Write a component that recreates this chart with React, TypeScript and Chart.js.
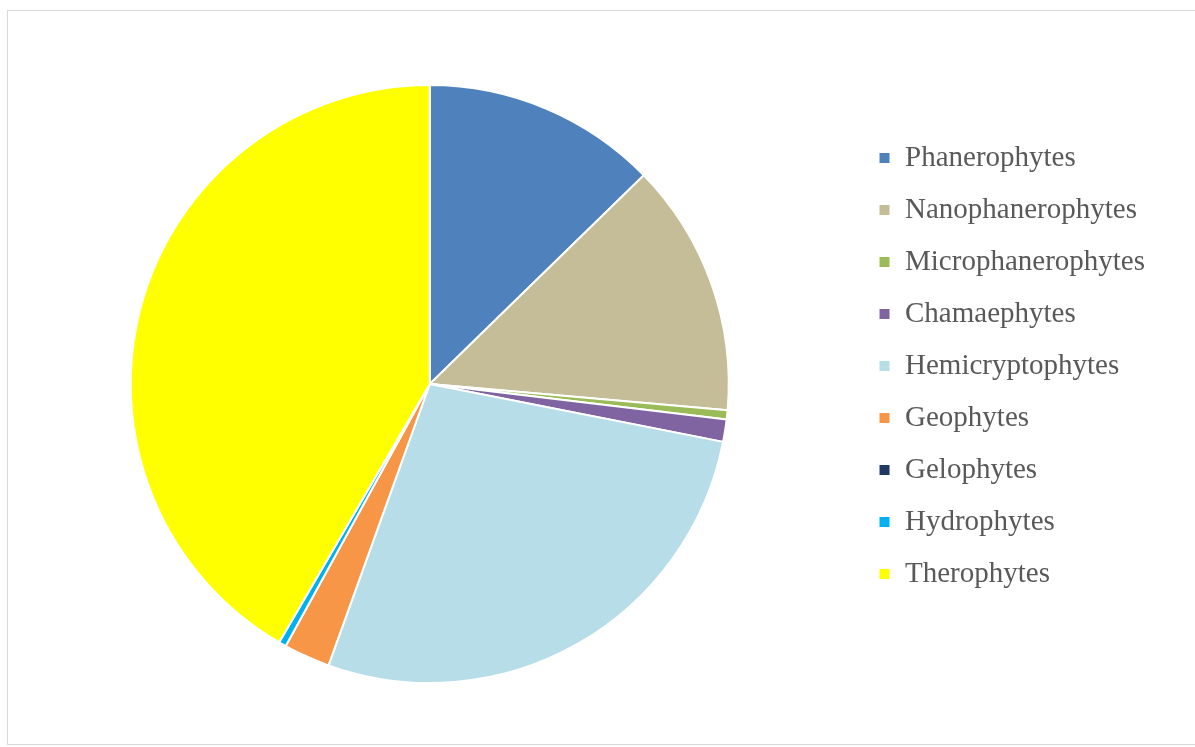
import React, { useEffect, useRef } from "react";
import { Chart, registerables } from "chart.js";

Chart.register(...registerables);

const categories = [
  "Phanerophytes",
  "Nanophanerophytes",
  "Microphanerophytes",
  "Chamaephytes",
  "Hemicryptophytes",
  "Geophytes",
  "Gelophytes",
  "Hydrophytes",
  "Therophytes",
];

const shares = [12.7, 13.7, 0.5, 1.2, 27.4, 2.5, 0, 0.4, 41.6];

const sliceColors = [
  "#4F81BD",
  "#C4BD97",
  "#9BBB59",
  "#8064A2",
  "#B7DEE8",
  "#F79646",
  "#1F3864",
  "#00B0F0",
  "#FFFF00",
];

const legendNudge = {
  id: "legendNudge",
  afterLayout(chart: any) {
    const l = chart.legend;
    if (l) {
      l.top -= 18;
      l.bottom -= 18;
    }
  },
};

export default function App() {
  const ref = useRef<HTMLCanvasElement | null>(null);

  useEffect(() => {
    if (!ref.current) return;
    const chart = new Chart(ref.current, {
      type: "pie",
      data: {
        labels: categories,
        datasets: [
          {
            data: shares,
            backgroundColor: sliceColors,
            borderColor: "#ffffff",
            borderWidth: 2,
          },
        ],
      },
      plugins: [legendNudge],
      options: {
        responsive: false,
        animation: false,
        layout: { padding: { left: 4, top: 84, bottom: 63, right: 40 } },
        plugins: {
          tooltip: { enabled: false },
          legend: {
            position: "right",
            align: "center",
            labels: {
              boxWidth: 12,
              boxHeight: 12,
              padding: 23,
              color: "#595959",
              font: { family: "'Liberation Serif', 'Times New Roman', serif", size: 29 },
            },
          },
        },
      },
    });
    return () => chart.destroy();
  }, []);

  return (
    <div style={{ position: "absolute", left: 0, top: 0, width: 1195, height: 747, background: "#fff" }}>
      <div
        style={{
          position: "absolute",
          left: 7,
          top: 10,
          width: 1195,
          height: 735,
          borderLeft: "1px solid #d9d9d9",
          borderTop: "1px solid #d9d9d9",
          borderBottom: "1px solid #d9d9d9",
          boxSizing: "border-box",
        }}
      />
      <canvas ref={ref} width={1195} height={747} style={{ position: "absolute", left: 0, top: 0 }} />
    </div>
  );
}
